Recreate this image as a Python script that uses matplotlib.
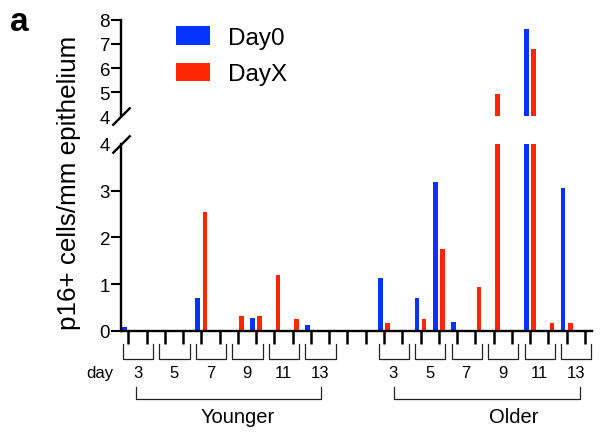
import matplotlib
matplotlib.use("Agg")
import matplotlib.pyplot as plt
import numpy as np

plt.rcParams['font.family'] = ['Liberation Sans', 'DejaVu Sans']

# two samples per day, Day0 / DayX values
days = [3, 5, 7, 9, 11, 13]
younger_day0 = [0.09, 0, 0, 0, 0.70, 0, 0, 0.28, 0, 0, 0.13, 0]
younger_dayx = [0, 0, 0, 0, 2.55, 0, 0.33, 0.33, 1.20, 0.26, 0, 0]
older_day0 = [1.13, 0, 0.71, 3.19, 0.19, 0, 0, 0, 7.61, 0, 3.06, 0]
older_dayx = [0.18, 0, 0.26, 1.76, 0, 0.94, 4.92, 0, 6.79, 0.17, 0.17, 0]
groups = ['Younger', 'Older']

blue = '#0433ff'
red = '#ff2600'

# positions: younger 0..11, gap, older 14..25
x_young = np.arange(12)
x_old = np.arange(14, 26)
x = np.concatenate([x_young, x_old])
day0 = np.array(younger_day0 + older_day0)
dayx = np.array(younger_dayx + older_dayx)

fig = plt.figure(figsize=(6.16, 4.35), dpi=100)
ax = fig.add_axes([0.1968, 0.2368, 0.7637, 0.4299])
ax_up = fig.add_axes([0.1968, 0.7303, 0.7637, 0.2221], sharex=ax)

off, w = 0.195, 0.26
for a in (ax, ax_up):
    b0 = a.bar(x - off, day0, w, color=blue, label='Day0')
    bx = a.bar(x + off, dayx, w, color=red, label='DayX')
    for s in ('top', 'right'):
        a.spines[s].set_visible(False)
    a.spines['left'].set_linewidth(1.7)
    a.tick_params(axis='y', length=7, width=1.5, labelsize=13.5, pad=1)

ax.set_xlim(-0.39, 25.37)
ax.set_ylim(0, 4)
ax.set_yticks([0, 1, 2, 3, 4])
ax.yaxis.get_major_ticks()[-1].tick1line.set_visible(False)
ax.spines['bottom'].set_linewidth(1.7)
ax.set_xticks(np.arange(26))
ax.tick_params(axis='x', length=9, width=1.8, labelbottom=False)

ax_up.set_ylim(4, 8)
ax_up.set_yticks([4, 5, 6, 7, 8])
ax_up.yaxis.get_major_ticks()[0].tick1line.set_visible(False)
ax_up.spines['bottom'].set_visible(False)
ax_up.tick_params(axis='x', bottom=False, labelbottom=False)

# break marks
kw = dict(marker=[(-1, -1), (1, 1)], markersize=13, linestyle='none',
          color='k', mec='k', mew=1.7, clip_on=False)
ax.plot([0], [1], transform=ax.transAxes, **kw)
ax_up.plot([0], [0], transform=ax_up.transAxes, **kw)

# day brackets and labels
tr = ax.get_xaxis_transform()
lk = dict(color='#222222', lw=0.9, clip_on=False, transform=tr)
y_top, y_bot = -0.0695, -0.149
for k0 in (0, 14):
    for j, d in enumerate(days):
        s = k0 + 2 * j
        x0, x1 = s - 0.3, s + 1.36
        ax.plot([x0, x0, x1, x1], [y_top, y_bot, y_bot, y_top], **lk)
        ax.text(s + 0.5, -0.22, str(d), transform=tr, ha='center', va='center',
                fontsize=12)
ax.text(-0.84, -0.22, 'day', transform=tr, ha='right', va='center', fontsize=12)

# group brackets
spans = [(0.4, 10.55, 6.0), (14.55, 24.75, 21.08)]
for (g0, g1, gc), name in zip(spans, groups):
    ax.plot([g0, g0, g1, g1], [-0.301, -0.364, -0.364, -0.301], **lk)
    ax.text(gc, -0.455, name, transform=tr, ha='center', va='center', fontsize=14.5)

fig.text(69.5 / 616, 1 - 182.5 / 435, 'p16+ cells/mm epithelium', rotation=90,
         ha='center', va='center', fontsize=18.7)
fig.text(10 / 616, 1 - 31 / 435, 'a', fontsize=24, fontweight='bold',
         ha='left', va='baseline')

fig.legend(handles=[b0, bx], loc='upper left', bbox_to_anchor=(0.285, 0.937),
           frameon=False, fontsize=17.5, handlelength=1.4, handleheight=0.8,
           handletextpad=0.75, labelspacing=0.55, borderaxespad=0, borderpad=0)

fig.savefig('out.png', dpi=100)
